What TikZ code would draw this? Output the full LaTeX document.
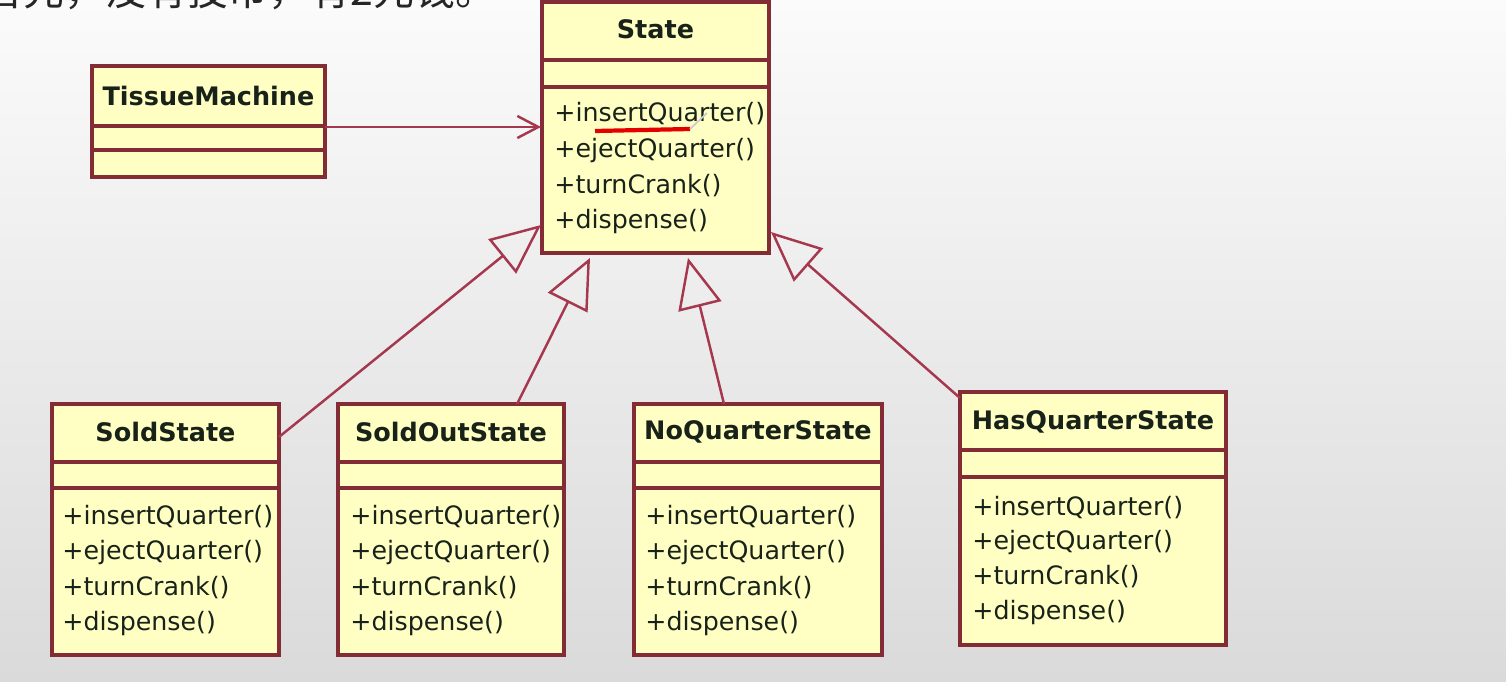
\documentclass[tikz,border=0pt]{standalone}
\usepackage{fontspec}
\setmainfont{DejaVu Sans}
\newfontfamily\cjk{Noto Sans CJK SC}
\usetikzlibrary{arrows.meta,calc}
\definecolor{boxfill}{RGB}{255,255,196}
\definecolor{boxline}{RGB}{132,44,54}
\definecolor{conn}{RGB}{165,55,78}
\definecolor{txt}{RGB}{24,34,24}
\definecolor{bgtop}{RGB}{251,251,251}
\definecolor{bgbot}{RGB}{218,218,218}
\tikzset{
  umlbox/.style={draw=boxline, fill=boxfill, line width=2pt, anchor=north west, inner sep=0pt, outer sep=0pt},
  ttl/.style={font=\bfseries\fontsize{14.5}{17}\selectfont, text=txt, inner sep=0pt},
  meth/.style={font=\fontsize{14.4}{20}\selectfont, anchor=base west, inner sep=0pt, text=txt},
  divider/.style={draw=boxline, line width=2pt},
  gen/.style={draw=conn, line width=1.4pt, -{Triangle[open, length=1cm, width=0.88cm, line width=1.4pt]}},
  assoc/.style={draw=conn, line width=1.4pt, -{Straight Barb[length=0.42cm, width=0.44cm, line width=1.4pt]}},
}
% #1 name, #2 x, #3 y, #4 width(cm), #5 height(cm), #6 title, #7 title centre offset, #8 first divider, #9 second divider
\newcommand\umlclassbox[9]{%
  \node[umlbox, minimum width=#4cm, minimum height=#5cm] (#1) at (#2,#3) {};
  \draw[divider] ($(#1.north west)+(0,#8)$) -- ($(#1.north east)+(2,#8)$);
  \draw[divider] ($(#1.north west)+(0,#9)$) -- ($(#1.north east)+(2,#9)$);
  \node[ttl] (#1-title) at ($(#1.north)+(0,#7)$) {#6};
}
% #1 name, #2 left inset, #3 first baseline offset, #4 pitch
\newcommand\umlops[4]{%
  \foreach \m [count=\i] in {insertQuarter(), ejectQuarter(), turnCrank(), dispense()} {
    \node[meth] (#1-m\i) at ($(#1.north west)+({#2},{#3+(\i-1)*#4})$) {+\m};
  }
}
\begin{document}
\begin{tikzpicture}[x=0.02cm, y=-0.02cm]
\shade[top color=bgtop, bottom color=bgbot] (0,0) rectangle (1506,682);
\useasboundingbox (0,0) rectangle (1506,682);

\node[anchor=base west, inner sep=0pt, font=\cjk\fontsize{23.3}{26}\selectfont, text=black!85] (caption) at (-18,6) {首先，没有投币，有2元钱。};

\umlclassbox{state}{542}{2}{4.54}{5.02}{State}{27}{58}{85}
\umlops{state}{12}{120}{35.6}

\umlclassbox{tissue}{92}{66}{4.66}{2.22}{TissueMachine}{30}{60}{84}

\umlclassbox{sold}{52}{404}{4.54}{5.02}{SoldState}{28}{58}{84}
\umlops{sold}{10}{120}{35.6}

\umlclassbox{soldout}{338}{404}{4.52}{5.02}{SoldOutState}{28}{58}{84}
\umlops{soldout}{12}{120}{35.6}

\umlclassbox{noq}{634}{404}{4.96}{5.02}{NoQuarterState}{28}{58}{84}
\umlops{noq}{11}{120}{35.6}

\umlclassbox{hasq}{960}{392}{5.32}{5.06}{HasQuarterState}{30}{58}{85}
\umlops{hasq}{12}{123}{34.8}

% red pen underline on State
\draw[red!90!black, line width=2.4pt] ($(state.north west)+(53,129)$) coordinate (ul1) -- ($(state.north west)+(148,127)$) coordinate (ul2);
\draw[white!60!gray, line width=1pt] (ul2) -- ($(state.north west)+(165,111)$) coordinate (pen);

% connectors
\draw[assoc] ($(tissue.north east)+(0,61)$) -- ($(state.north west)+(-1,125)$);
\draw[gen] ($(sold.north east)+(0,33)$) -- ($(state.north west)+(-1,223)$);
\draw[gen] ($(soldout.north west)+(179,0)$) -- ($(state.south west)+(48,5)$);
\draw[gen] ($(noq.north west)+(90,0)$) -- ($(state.south west)+(146,5)$);
\draw[gen] ($(hasq.north west)+(0,6)$) -- ($(state.north east)+(2,230)$);
\end{tikzpicture}
\end{document}
